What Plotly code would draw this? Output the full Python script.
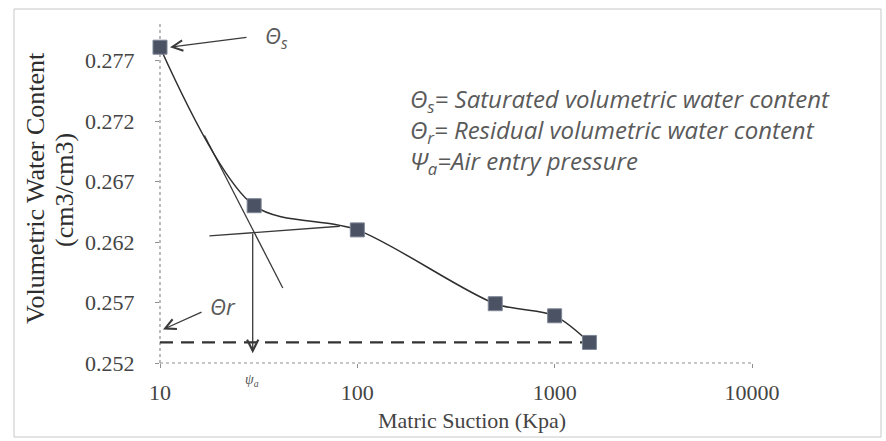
import math
import plotly.graph_objects as go

# Soil-water characteristic curve: matric suction (kPa) vs volumetric water content
suction_kpa = [10, 30, 100, 500, 1000, 1500]
water_content = [0.2781, 0.2650, 0.2630, 0.2569, 0.2559, 0.2537]

theta_s = 0.2781          # saturated volumetric water content
theta_r = 0.2537          # residual volumetric water content
theta_r_x = [10, 1500]

# Tangent construction used to locate the air entry pressure
steep_tangent_x = [16.8, 41.9]
steep_tangent_y = [0.2708, 0.2582]
flat_tangent_x = [17.8, 81.5]
flat_tangent_y = [0.2625, 0.2633]
psi_a = 29.5              # air entry pressure (kPa)
psi_a_theta = 0.2628      # water content where the tangents meet
psi_a_arrow_end = 0.2528

y_ticks = [0.252, 0.257, 0.262, 0.267, 0.272, 0.277]
x_ticks = [10, 100, 1000, 10000]
x_tick_labels = ["10", "100", "1000", "10000"]

definitions = [
    "Θ<sub>s</sub>= Saturated volumetric water content",
    "Θ<sub>r</sub>= Residual volumetric water content",
    "Ψ<sub>a</sub>=Air entry pressure",
]

W, H = 886, 441
PL, PR, PT, PB = 160, 752, 23, 363

SERIF = "Liberation Serif, Times New Roman, serif"
SANS = "Open Sans, Lato, sans-serif"
INK = "#2e2e2e"
GREY = "#5a5a5a"
AXIS = "#8f8f8f"


def px(x):
    return (x - PL) / (PR - PL)


def py(y):
    return (PB - y) / (PB - PT)


fig = go.Figure()

# Residual water content reference line
fig.add_trace(go.Scatter(
    x=theta_r_x, y=[theta_r, theta_r], mode="lines",
    line=dict(color="#333333", width=2.2, dash="13px,8px"),
    hoverinfo="skip", showlegend=False, cliponaxis=False))

# Tangent lines
fig.add_trace(go.Scatter(
    x=steep_tangent_x, y=steep_tangent_y, mode="lines",
    line=dict(color="#3a3a3a", width=1.3), showlegend=False))
fig.add_trace(go.Scatter(
    x=flat_tangent_x, y=flat_tangent_y, mode="lines",
    line=dict(color="#3a3a3a", width=1.3), showlegend=False))

# Measured curve (smoothed)
fig.add_trace(go.Scatter(
    x=suction_kpa, y=water_content, mode="lines+markers",
    line=dict(color=INK, width=1.5, shape="spline", smoothing=0.85),
    marker=dict(symbol="square", size=14, color="#4b5263",
                line=dict(color="#7d8594", width=1)),
    showlegend=False, cliponaxis=False))

annotations = []

# Theta_s arrow and label
annotations.append(dict(
    x=math.log10(suction_kpa[0]), y=theta_s, xref="x", yref="y",
    xshift=10, ax=78, ay=-10, showarrow=True, arrowhead=5,
    arrowsize=1.6, arrowwidth=1.3, arrowcolor="#3a3a3a", text=""))
annotations.append(dict(
    x=px(263), y=py(37), xref="paper", yref="paper",
    xanchor="left", yanchor="middle", showarrow=False,
    text="<i>Θ<sub>s</sub></i>", font=dict(family=SANS, size=22, color=GREY)))

# Theta_r arrow and label
annotations.append(dict(
    x=math.log10(theta_r_x[0]), y=theta_r, xref="x", yref="y",
    xshift=3, yshift=13, ax=40, ay=-18, showarrow=True, arrowhead=5,
    arrowsize=1.6, arrowwidth=1.3, arrowcolor="#3a3a3a", text=""))
annotations.append(dict(
    x=px(208), y=py(306), xref="paper", yref="paper",
    xanchor="left", yanchor="middle", showarrow=False,
    text="<i>Θr</i>", font=dict(family=SANS, size=22, color=GREY)))

# Air entry pressure drop line
annotations.append(dict(
    x=math.log10(psi_a), y=psi_a_arrow_end, xref="x", yref="y",
    ax=math.log10(psi_a), ay=psi_a_theta, axref="x", ayref="y",
    showarrow=True, arrowhead=5, arrowsize=1.7, arrowwidth=1.3,
    arrowcolor="#3a3a3a", text=""))
annotations.append(dict(
    x=px(252), y=py(380), xref="paper", yref="paper",
    xanchor="center", yanchor="middle", showarrow=False,
    text="<i>ψ<sub>a</sub></i>", font=dict(family=SERIF, size=14, color="#555555")))

# Definitions block
annotations.append(dict(
    x=px(408), y=py(131), xref="paper", yref="paper",
    xanchor="left", yanchor="middle", align="left", showarrow=False,
    text="<i>" + "<br>".join(definitions) + "</i>",
    font=dict(family=SANS, size=24, color=GREY)))

# Axis titles
annotations.append(dict(
    x=px(35), y=py(188), xref="paper", yref="paper", textangle=-90,
    xanchor="center", yanchor="middle", showarrow=False,
    text="Volumetric Water Content", font=dict(family=SERIF, size=26, color=INK)))
annotations.append(dict(
    x=px(64), y=py(190), xref="paper", yref="paper", textangle=-90,
    xanchor="center", yanchor="middle", showarrow=False,
    text="(cm3/cm3)", font=dict(family=SERIF, size=26, color=INK)))
annotations.append(dict(
    x=px(472), y=py(420), xref="paper", yref="paper",
    xanchor="center", yanchor="middle", showarrow=False,
    text="Matric Suction (Kpa)", font=dict(family=SERIF, size=22, color="#444444")))

shapes = [
    # outer chart frame
    dict(type="rect", xref="paper", yref="paper",
         x0=px(14), x1=px(881), y0=py(437), y1=py(9),
         line=dict(color="#c8c8c8", width=1), fillcolor="rgba(0,0,0,0)", layer="below"),
    # dotted axis lines
    dict(type="line", xref="paper", yref="paper", layer="below",
         x0=0, x1=0, y0=0, y1=1, line=dict(color=AXIS, width=1.2, dash="dot")),
    dict(type="line", xref="paper", yref="paper", layer="below",
         x0=0, x1=1, y0=0, y1=0, line=dict(color=AXIS, width=1.2, dash="dot")),
]

fig.update_layout(
    width=W, height=H, autosize=False,
    margin=dict(l=PL, r=W - PR, t=PT, b=H - PB, pad=0),
    paper_bgcolor="white", plot_bgcolor="white",
    showlegend=False,
    annotations=annotations, shapes=shapes,
    xaxis=dict(
        type="log", range=[1, 4],
        tickvals=x_ticks, ticktext=x_tick_labels,
        showgrid=False, zeroline=False, showline=False,
        ticks="outside", ticklen=4, tickcolor=AXIS,
        ticklabelstandoff=6,
        tickfont=dict(family=SERIF, size=22, color="#444444")),
    yaxis=dict(
        range=[0.252, 0.2801],
        tickvals=y_ticks, tickformat=".3f",
        showgrid=False, zeroline=False, showline=False,
        ticks="outside", ticklen=4, tickcolor=AXIS,
        ticklabelstandoff=16,
        tickfont=dict(family=SERIF, size=22, color="#444444")),
)

fig.write_html("out.html")
